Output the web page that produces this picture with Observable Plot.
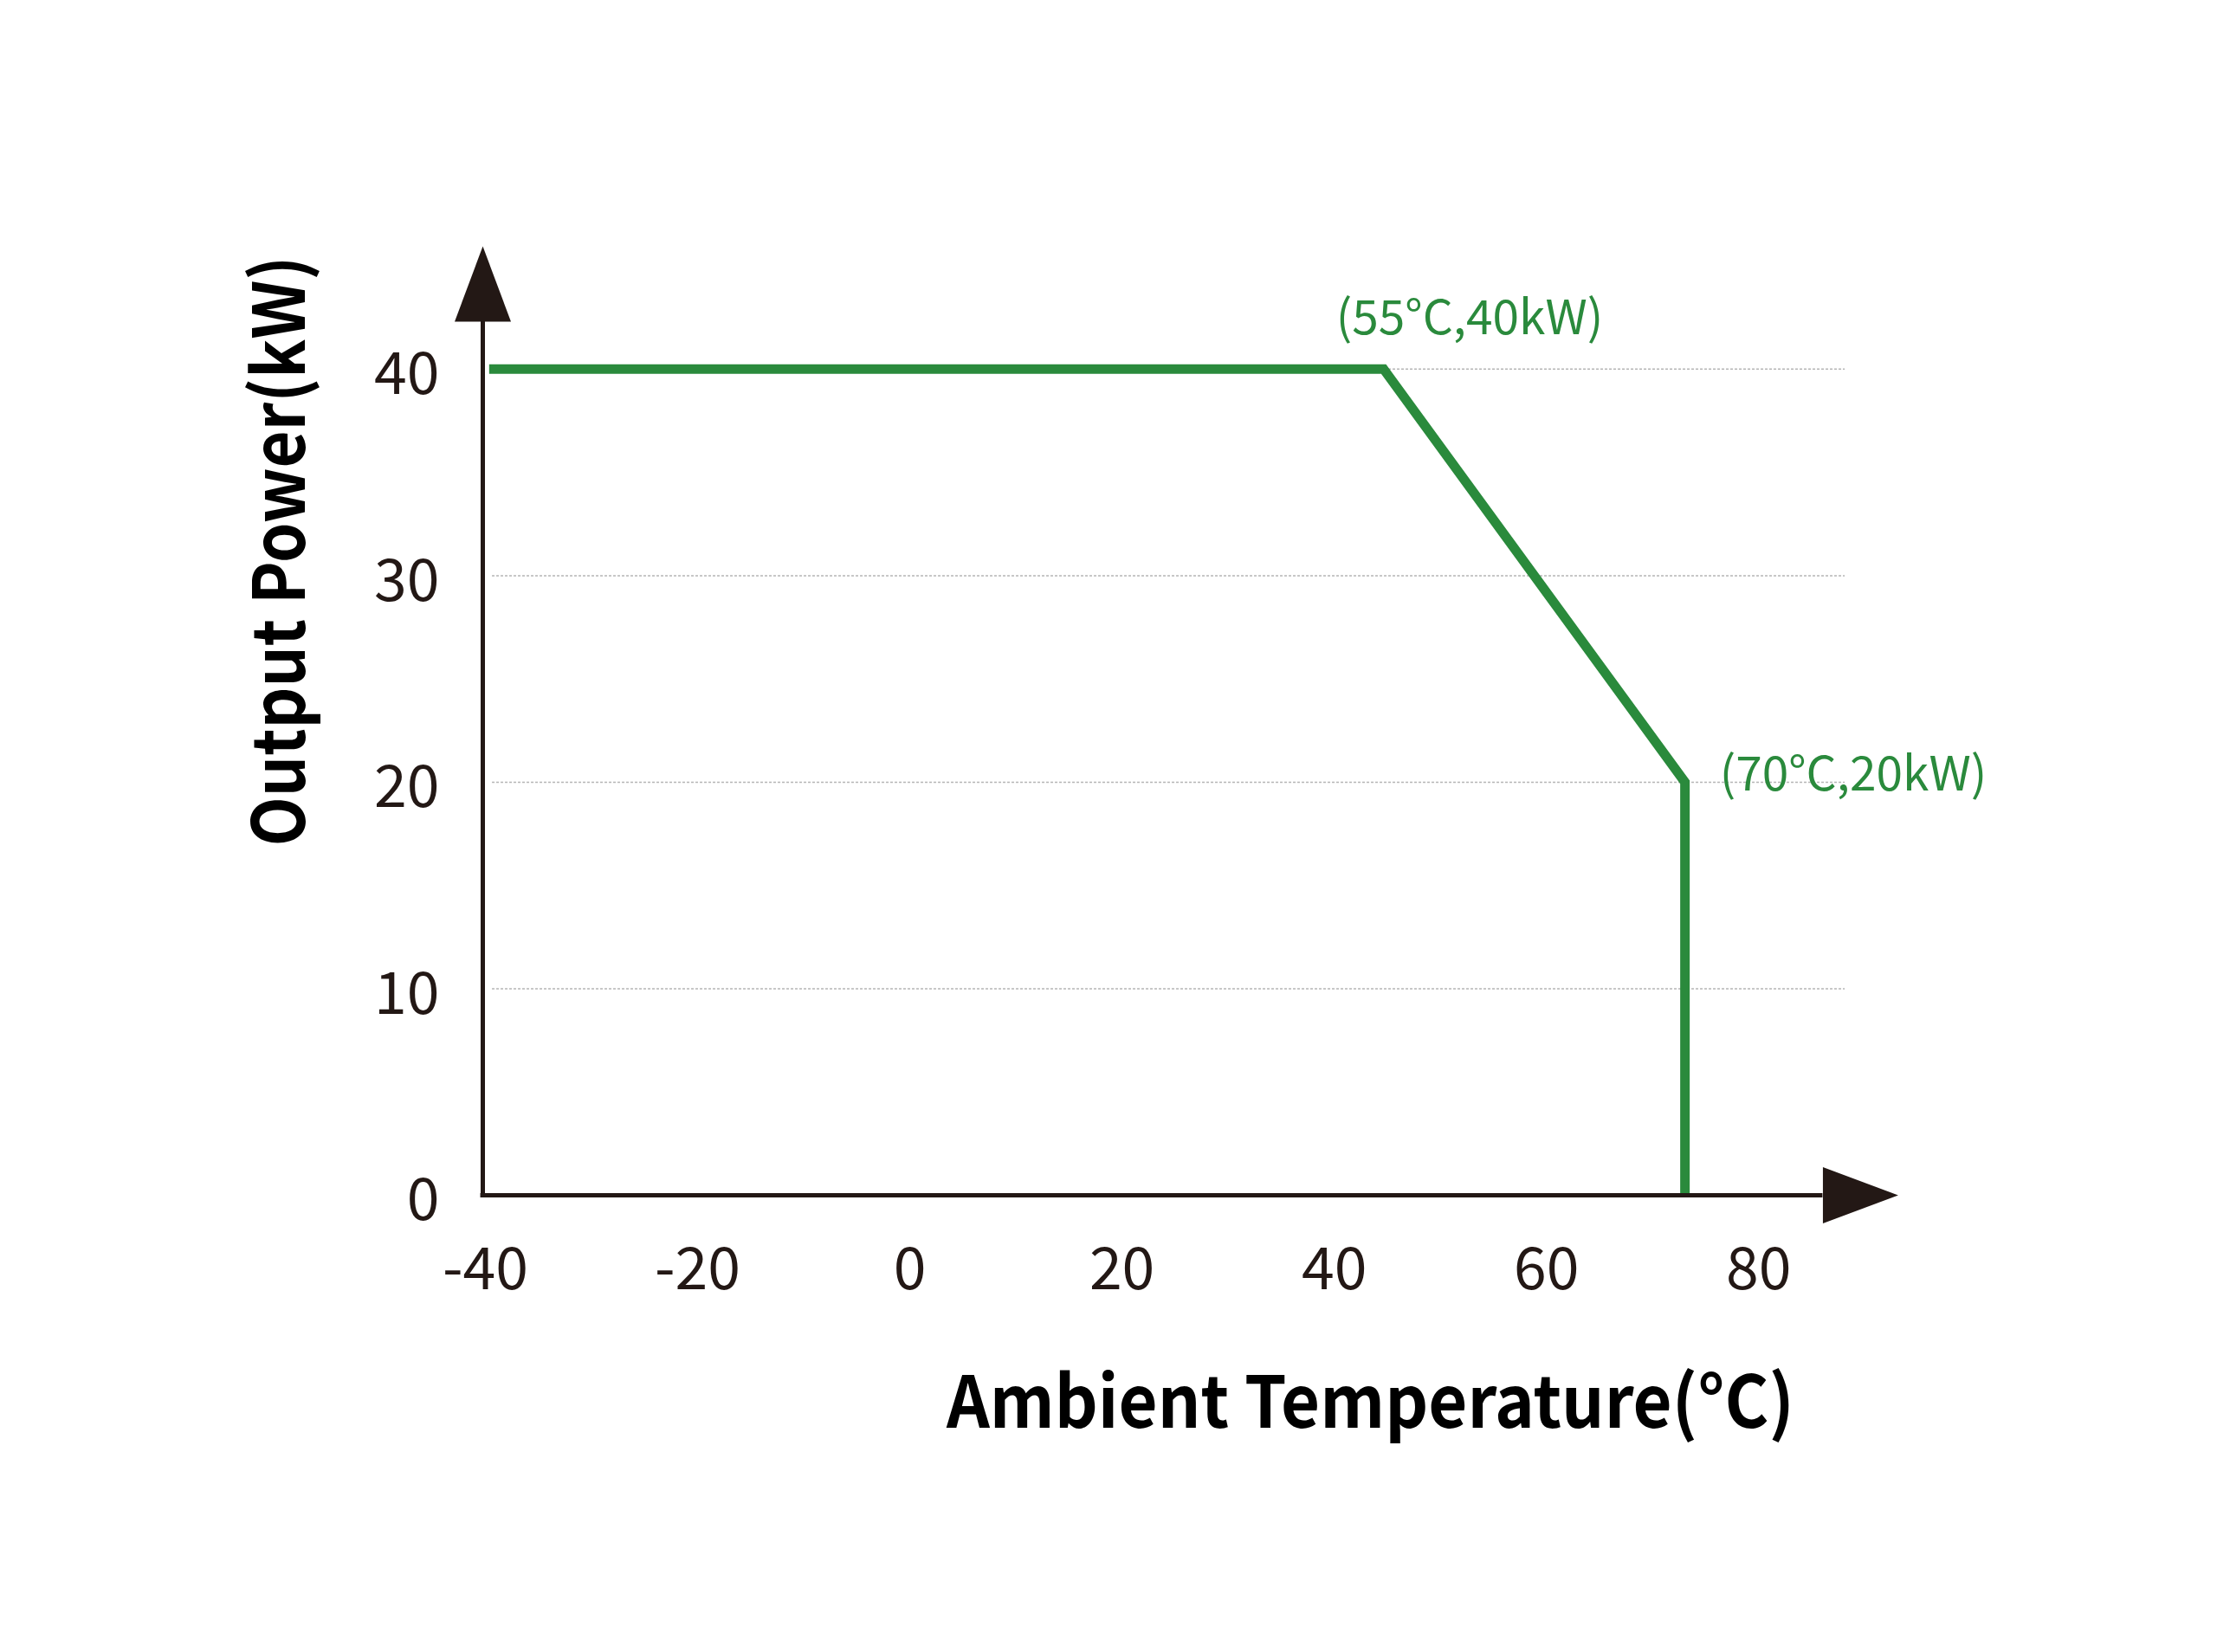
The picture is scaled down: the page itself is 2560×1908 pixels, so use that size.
<!DOCTYPE html>
<html>
<head>
<meta charset="utf-8">
<script src="https://cdn.jsdelivr.net/npm/d3@7"></script>
<script src="https://cdn.jsdelivr.net/npm/@observablehq/plot@0.6"></script>
<style>
  html, body { margin: 0; padding: 0; background: #ffffff; }
  #chart svg { display: block; }
</style>
</head>
<body>
<div id="chart"></div>
<script>
// ---- data ----
const temperatures = [-39.4, 44.9, 73.3, 73.3];   // °C positions on the drawn axis
const powers = [40, 40, 20, 0];                     // kW
const xTicks = [-40, -20, 0, 20, 40, 60, 80];
const yTicks = [0, 10, 20, 30, 40];
const gridLevels = [10, 20, 30, 40];
const annotationTexts = ["(55°C,40kW)", "(70°C,20kW)"];
const annotationIndex = [1, 2];
const xTitle = "Ambient Temperature(°C)";
const yTitle = "Output Power(kW)";
const xAxisEnd = 86.3;
const yAxisEnd = 42.3;

// ---- derived tables ----
const rows = temperatures.map((t, i) => ({t, p: powers[i]}));
const annotations = annotationIndex.map((i, k) => ({t: temperatures[i], p: powers[i], label: annotationTexts[k]}));
const arrows = [{t: -40, p: yAxisEnd, r: 0}, {t: xAxisEnd, p: 0, r: 90}];

const ink = "#231815";
const green = "#2a8a3c";
const font = "'Noto Sans CJK SC', 'Noto Sans', sans-serif";

const arrowHead = {
  draw(ctx) {
    ctx.moveTo(0, -87);
    ctx.lineTo(32.5, 0);
    ctx.lineTo(-32.5, 0);
    ctx.closePath();
  }
};

const chart = Plot.plot({
  width: 2560,
  height: 1908,
  marginLeft: 557,
  marginRight: 349,
  marginTop: 235,
  marginBottom: 528,
  style: {fontFamily: font, color: ink, background: "#ffffff"},
  x: {domain: [-40, 95], axis: null},
  y: {domain: [0, 48], axis: null},
  marks: [
    Plot.ruleY(gridLevels, {x1: -39.1, x2: 88.4, stroke: "#b5b5b5", strokeWidth: 1.5, strokeDasharray: "3,2"}),
    Plot.line(rows, {x: "t", y: "p", stroke: green, strokeWidth: 11, strokeLinejoin: "miter", strokeMiterlimit: 10, strokeLinecap: "butt"}),
    Plot.ruleX([-40], {y1: -0.1, y2: yAxisEnd, stroke: ink, strokeWidth: 5}),
    Plot.ruleY([0], {x1: -40.2, x2: xAxisEnd, stroke: ink, strokeWidth: 5}),
    Plot.dot(arrows, {x: "t", y: "p", rotate: "r", symbol: arrowHead, fill: ink, stroke: "none", r: 10}),
    Plot.axisX({ticks: xTicks, tickFormat: d => String(d), tickSize: 0, tickPadding: 60, fontSize: 68, label: null, dx: 3}),
    Plot.axisY({ticks: yTicks, tickFormat: d => String(d), tickSize: 0, tickPadding: 50, fontSize: 68, label: null, dy: 7}),
    Plot.text([annotations[0]], {x: "t", y: "p", text: "label", textAnchor: "start", lineAnchor: "middle", dx: -55, dy: -58, fontSize: 55, fill: green}),
    Plot.text([annotations[1]], {x: "t", y: "p", text: "label", textAnchor: "start", lineAnchor: "middle", dx: 40, dy: -8, fontSize: 55, fill: green}),
    Plot.text([xTitle], {text: d => d, frameAnchor: "bottom", textAnchor: "middle", lineAnchor: "middle", dx: 198, dy: 242, fontSize: 83, fontWeight: 700, fill: "#000000"}),
    Plot.text([yTitle], {text: d => d, frameAnchor: "left", rotate: -90, textAnchor: "middle", lineAnchor: "middle", dx: -231.6, dy: -171.5, fontSize: 83, fontWeight: 700, fill: "#000000"})
  ]
});

chart.querySelectorAll("text").forEach(el => {
  if (el.textContent === xTitle) { el.setAttribute("textLength", 979); el.setAttribute("lengthAdjust", "spacingAndGlyphs"); }
  if (el.textContent === yTitle) { el.setAttribute("textLength", 682); el.setAttribute("lengthAdjust", "spacingAndGlyphs"); }
});

document.getElementById("chart").appendChild(chart);
</script>
</body>
</html>
